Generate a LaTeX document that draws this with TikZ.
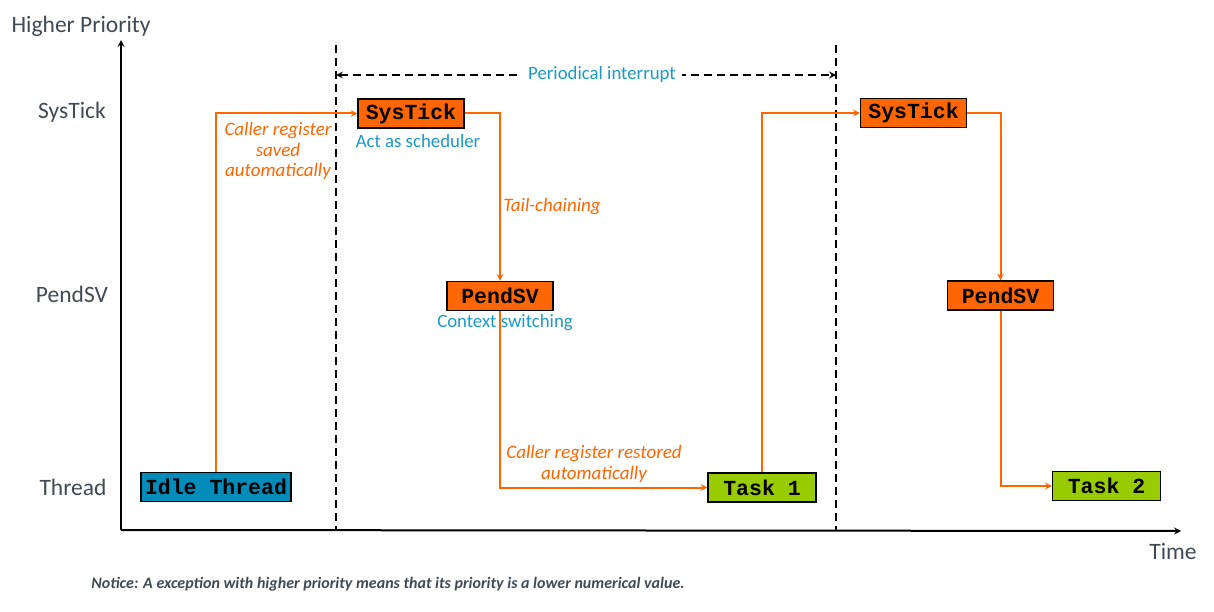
\documentclass[tikz,border=0pt]{standalone}
\usepackage{fontspec}
\setmainfont{Carlito}
\newfontfamily\boxfont{Liberation Mono}
\usetikzlibrary{positioning}
\definecolor{tickorange}{HTML}{FF6600}
\definecolor{idleblue}{HTML}{008CBA}
\definecolor{taskgreen}{HTML}{99CC00}
\definecolor{notetext}{HTML}{1A9AC6}
\definecolor{axistext}{HTML}{3F4A55}
\tikzset{
  exc/.style={draw=black, line width=1.2pt, fill=tickorange, minimum height=29pt, minimum width=106pt, inner sep=0pt, font=\boxfont\bfseries\fontsize{21.5}{24}\selectfont},
  thread/.style={exc, minimum width=108pt, fill=taskgreen},
  flow/.style={line width=2pt, tickorange, -stealth},
  remark/.style={text=notetext, font=\fontsize{18.8}{22}\selectfont},
  flowlabel/.style={text=tickorange, align=center, font=\itshape\fontsize{19}{20.5}\selectfont},
  level/.style={text=axistext, font=\fontsize{23.5}{26}\selectfont}
}

\begin{document}
\begin{tikzpicture}[x=1pt, y=-1pt]
  \useasboundingbox (0,0) rectangle (1214,612);
  % axes
  \coordinate (origin) at (121,530);
  \coordinate (ytop) at (121,40);
  \coordinate (xend) at (1181,531);
  \draw[line width=2pt, -stealth] (origin)--(ytop);
  \draw[line width=2pt, -stealth] (origin)--(xend);
  \node[level] (hp) at (81,26) {Higher Priority};
  \node[level] (time) at (1173,551) {Time};
  \node[level] (lsys) at (72,112) {SysTick};
  \node[level] (lpend) at (72,294) {PendSV};
  \node[level] (lthr) at (73,487) {Thread};

  % period markers
  \coordinate (pa) at (336,45);
  \coordinate (pb) at (336,531);
  \coordinate (pc) at (836,45);
  \coordinate (pd) at (836,531);
  \draw[line width=2pt, dash pattern=on 8pt off 5pt] (pa)--(pb);
  \draw[line width=2pt, dash pattern=on 8pt off 5pt] (pc)--(pd);
  \coordinate (ia) at (336,75);
  \coordinate (ib) at (836,75);
  \draw[line width=2pt, dash pattern=on 8pt off 5pt, stealth-stealth] (ia)--(ib);
  \node[fill=white, remark, inner xsep=6pt] (period) at (602,74) {Periodical interrupt};

  % exceptions and threads
  \node[exc] (systick1) at (411,113.5) {SysTick};
  \node[exc] (pendsv1) at (500,296) {PendSV};
  \node[exc] (systick2) at (913.5,113) {SysTick};
  \node[exc] (pendsv2) at (1000.5,295.5) {PendSV};
  \node[thread, fill=idleblue, minimum width=150pt] (idle) at (216,487) {Idle Thread};
  \node[thread] (task1) at (762,487.5) {Task 1};
  \node[thread] (task2) at (1106.5,486) {Task 2};

  \node[remark, below=2pt of systick1, xshift=7pt] (sched) {Act as scheduler};
  \node[remark, below=0pt of pendsv1, xshift=5pt] (ctx) {Context switching};

  % transitions
  \draw[flow] (idle.north) |- (systick1.west);
  \draw[flow] (systick1.east) -| (pendsv1.north);
  \draw[flow] (pendsv1.south) |- (task1.west);
  \draw[flow] (task1.north) |- (systick2.west);
  \draw[flow] (systick2.east) -| (pendsv2.north);
  \draw[flow] (pendsv2.south) |- (task2.west);

  \node[flowlabel] (saved) at (278,151) {Caller register\\saved\\automatically};
  \node[flowlabel] (tail) at (552,207) {Tail-chaining};
  \node[flowlabel] (restored) at (594,464) {Caller register restored\\automatically};

  \node[text=axistext, font=\bfseries\itshape\fontsize{16}{18}\selectfont] (notice) at (388,584)
    {Notice: A exception with higher priority means that its priority is a lower numerical value.};
\end{tikzpicture}
\end{document}
